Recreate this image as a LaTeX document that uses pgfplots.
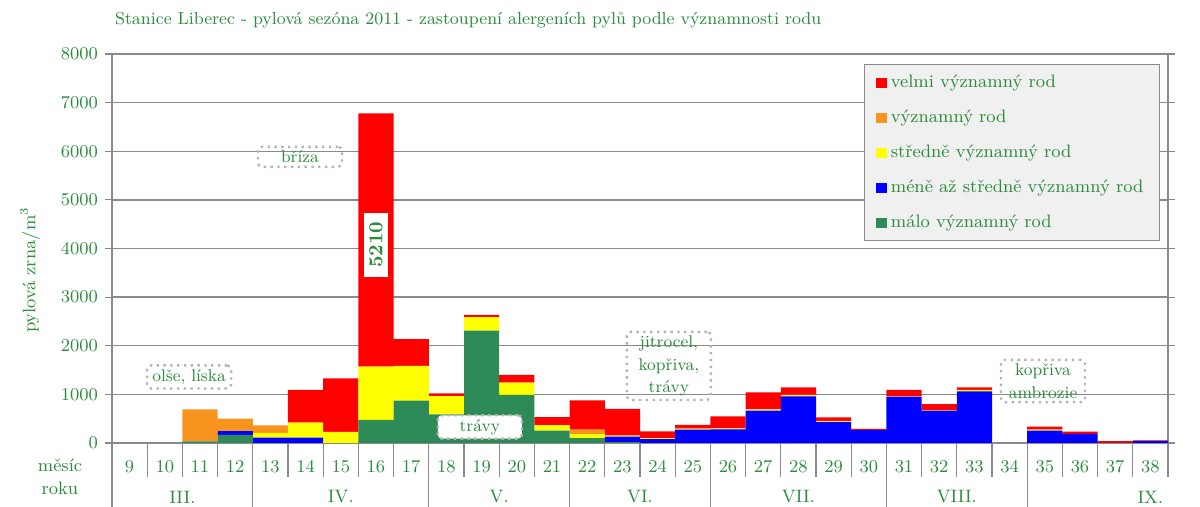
\documentclass[border=0pt]{standalone}
\usepackage{pgfplots}
\usepackage{pgfplotstable}
\pgfplotsset{compat=1.18}
\definecolor{txtgreen}{HTML}{2A8C3A}
\definecolor{cred}{HTML}{FF0000}
\definecolor{corange}{HTML}{F7941D}
\definecolor{cyellow}{HTML}{FFFF00}
\definecolor{cblue}{HTML}{0000FF}
\definecolor{cgreen}{HTML}{2E8B57}
\definecolor{gridgray}{HTML}{8A8A8A}
\definecolor{legfill}{HTML}{F0F0F0}
\definecolor{boxgray}{HTML}{B4B4B4}

% tydny 9-38, slozky zdola nahoru
\pgfplotstableread{
wk green blue yellow orange red
9  0    0    0    0   0
10 0    0    0    0   0
11 35   0    0    655 0
12 165  80   0    255 0
13 0    110  100  150 0
14 0    110  310  0   670
15 0    0    230  0   1100
16 475  0    1095 0   5210
17 870  0    715  0   550
18 590  0    375  0   55
19 2310 0    280  0   45
20 990  0    250  0   160
21 255  0    115  0   160
22 100  0    80   95  600
23 20   110  15   10  545
24 0    80   20   0   140
25 0    275  20   0   80
26 0    280  20   0   250
27 0    665  25   0   350
28 0    960  30   0   155
29 0    430  20   0   75
30 0    265  0    0   25
31 0    955  10   0   130
32 0    665  10   0   125
33 0    1060 30   0   55
34 0    0    0    0   0
35 0    255  15   15  50
36 0    185  0    0   50
37 0    5    0    0   35
38 0    45   0    0   10
}\pollen

\tikzset{
  note/.style={draw=boxgray, line width=1.2pt, dash pattern=on 1.2pt off 2.2pt,
    rounded corners=2pt, minimum width=42pt, align=center, text=txtgreen,
    font=\fontsize{8.5}{11.2}\selectfont, inner sep=2pt}
}

\begin{document}
\begin{tikzpicture}[font=\fontsize{9}{11}\selectfont]
\begin{axis}[
  scale only axis, width=528pt, height=194.5pt,
  ybar stacked, bar width=1,
  xmin=8.5, xmax=38.5, ymin=0, ymax=8000,
  xtick={9,...,38},
  ytick={0,1000,...,8000},
  scaled y ticks=false,
  yticklabel style={/pgf/number format/1000 sep={}, text=txtgreen},
  xticklabel style={text=txtgreen, yshift=-2pt},
  tick align=outside,
  xtick style={draw=none},
  ytick style={gridgray, line width=0.6pt},
  major tick length=3.5pt,
  ymajorgrids, grid style={gridgray, line width=0.7pt},
  axis line style={gridgray, line width=0.7pt},
  clip=false,
  reverse legend,
  legend image code/.code={\fill[#1] (0pt,-2.6pt) rectangle (5.2pt,2.6pt);},
  legend cell align=left,
  legend style={at={(0.9924,0.974)}, anchor=north east, fill=legfill,
    draw=gridgray, line width=0.6pt, text=txtgreen, inner xsep=6pt, inner ysep=3pt,
    row sep=5.5pt, column sep=0pt, nodes={inner sep=2pt, minimum height=12pt}},
]
\addplot[fill=cgreen, draw=none] table[x=wk, y=green] \pollen;
\addlegendentry{málo významný rod}
\addplot[fill=cblue, draw=none] table[x=wk, y=blue] \pollen;
\addlegendentry{méně až středně významný rod}
\addplot[fill=cyellow, draw=none] table[x=wk, y=yellow] \pollen;
\addlegendentry{středně významný rod}
\addplot[fill=corange, draw=none] table[x=wk, y=orange] \pollen;
\addlegendentry{významný rod}
\addplot[fill=cred, draw=none] table[x=wk, y=red] \pollen;
\addlegendentry{velmi významný rod}

\coordinate (sw) at (rel axis cs:0,0);
\coordinate (ne) at (rel axis cs:1,1);
\coordinate (p5210) at (axis cs:16,4074);
\coordinate (polse) at (axis cs:10.69,1358);
\coordinate (pbriza) at (axis cs:13.84,5885);
\coordinate (ptravy) at (axis cs:18.95,330);
\coordinate (pjitro) at (axis cs:24.32,1585);
\coordinate (pkopr) at (axis cs:34.95,1275);

% mesice
\node[text=txtgreen] at (axis cs:10.5,0) [yshift=-27pt] {III.};
\node[text=txtgreen] at (axis cs:15,0) [yshift=-27pt] {IV.};
\node[text=txtgreen] at (axis cs:19.5,0) [yshift=-27pt] {V.};
\node[text=txtgreen] at (axis cs:23.5,0) [yshift=-27pt] {VI.};
\node[text=txtgreen] at (axis cs:28,0) [yshift=-27pt] {VII.};
\node[text=txtgreen] at (axis cs:32.5,0) [yshift=-27pt] {VIII.};
\node[text=txtgreen] at (axis cs:38,0) [yshift=-27pt] {IX.};
\node[text=txtgreen] at (axis cs:8.5,0) [xshift=-26pt, yshift=-11pt] {měsíc};
\node[text=txtgreen] at (axis cs:8.5,0) [xshift=-26pt, yshift=-22.5pt] {roku};
\end{axis}

% popisky nad sloupci (az po vykresleni stacked plotu)
\node[rotate=90, fill=white, text=txtgreen, font=\fontsize{10}{12}\selectfont\bfseries,
  inner xsep=4.5pt, inner ysep=2.5pt] at (p5210) {5210};
\node[note] at (polse) {olše, líska};
\node[note] at (pbriza) {bříza};
\node[note, fill=white] at (ptravy) {trávy};
\node[note] at (pjitro) {jitrocel,\\kopřiva,\\trávy};
\node[note] at (pkopr) {kopřiva\\ambrozie};

\node[anchor=west, text=txtgreen, font=\fontsize{8.7}{10}\selectfont]
  at ([xshift=-2pt, yshift=17pt]sw |- ne)
  {Stanice Liberec - pylová sezóna 2011 - zastoupení alergeních pylů podle významnosti rodu};
\path (sw) ++(-41pt,86.5pt) node[rotate=90, text=txtgreen] {pylová zrna/m$^3$};

% tabulka tydnu a mesicu pod osou
\begin{scope}[gridgray, line width=0.6pt]
\foreach \i in {1,...,29} \draw ([xshift=\i*17.6pt]sw) -- ++(0,-17pt);
\foreach \i in {0,4,9,13,17,22,26} \draw ([xshift=\i*17.6pt]sw) -- ++(0,-32pt);
\draw ([xshift=528pt]sw) -- ++(0,-17pt);
\end{scope}

\pgfresetboundingbox
\path[use as bounding box] ([xshift=-56pt,yshift=-32pt]sw) rectangle ([xshift=16pt,yshift=27pt]ne);
\end{tikzpicture}
\end{document}
